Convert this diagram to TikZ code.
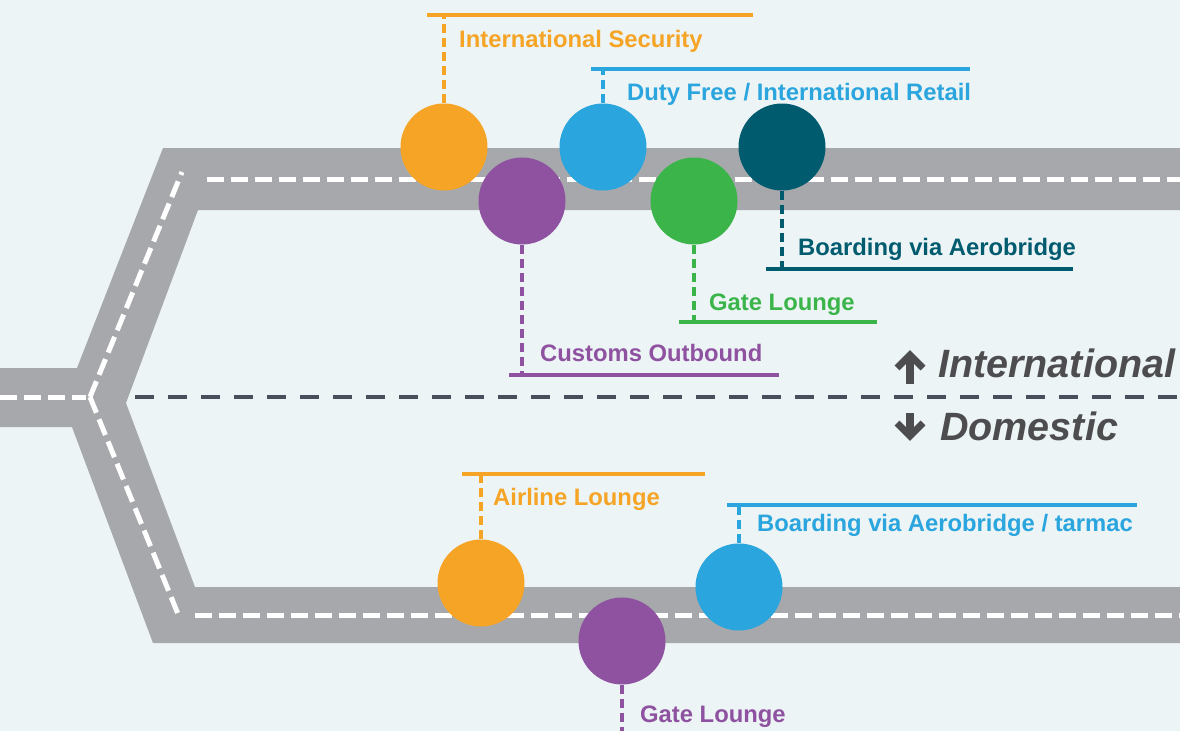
\documentclass[tikz,border=0pt]{standalone}
\usepackage{fontspec}
\setmainfont{Liberation Sans}
\definecolor{bg}{HTML}{ECF4F6}
\definecolor{road}{HTML}{A7A8AB}
\definecolor{cor}{HTML}{F6A425}
\definecolor{cpu}{HTML}{8E52A0}
\definecolor{cbl}{HTML}{2AA5DE}
\definecolor{cgr}{HTML}{3BB54A}
\definecolor{cte}{HTML}{005B6F}
\definecolor{divc}{HTML}{4A4E5C}
\definecolor{bigtext}{HTML}{4D4D4F}
\begin{document}
\begin{tikzpicture}[x=1pt,y=-1pt,
  circ/.style={circle, minimum size=87pt, inner sep=0pt, draw=none},
  conn/.style={line width=3.6pt, dash pattern=on 9pt off 5pt},
  bar/.style={line width=3.6pt},
  lbl/.style={anchor=base west, inner sep=0pt, font=\bfseries\fontsize{23.8}{28}\selectfont},
  big/.style={anchor=base west, inner sep=0pt, text=bigtext, font=\bfseries\itshape\fontsize{39.5}{44}\selectfont},
  roadline/.style={white, line width=5pt, dash pattern=on 17pt off 7pt},
  divline/.style={divc, line width=4.5pt, dash pattern=on 19pt off 14pt},
  arrshaft/.style={bigtext, line width=7.5pt},
  arrhead/.style={bigtext, line width=7pt, miter limit=10},
]
% background
\fill[bg] (0,0) rectangle (1180,731);
\useasboundingbox (0,0) rectangle (1180,731);
% road
\fill[road] (0,368) -- (77,368) -- (163,148) -- (1180,148) -- (1180,210) -- (198,210)
  -- (126,403) -- (195,587) -- (1180,587) -- (1180,643) -- (153,643) -- (72,427) -- (0,427) -- cycle;
\draw[roadline] (0,397) -- (86,397);
\draw[roadline] (90,397) -- (182,172);
\draw[roadline] (90,397) -- (178,614);
\draw[roadline] (207,179) -- (1180,179);
\draw[roadline] (195,615) -- (1180,615);
% divider
\draw[divline] (135,397) -- (1180,397);
% arrows
\draw[arrshaft] (910,384) -- (910,360);
\draw[arrhead] (897,368) -- (910,355) -- (923,368);
\draw[arrshaft] (910,413) -- (910,432);
\draw[arrhead] (897,423) -- (910,436) -- (923,423);
\node[big] (intl) at (938,377) {International};
\node[big] (dom) at (940,440) {Domestic};
% circles international
\node[circ, fill=cor] (isec) at (444,147) {};
\node[circ, fill=cpu] (cust) at (522,201) {};
\node[circ, fill=cbl] (duty) at (603,147) {};
\node[circ, fill=cgr] (gli) at (694,201) {};
\node[circ, fill=cte] (bav) at (782,147) {};
% circles domestic
\node[circ, fill=cor] (alr) at (481,583) {};
\node[circ, fill=cpu] (gld) at (622,641) {};
\node[circ, fill=cbl] (bat) at (739,587) {};
% coordinates for bars
\coordinate (isecT) at (444,15);
\coordinate (isecL) at (427,15);
\coordinate (isecR) at (753,15);
\coordinate (dutyT) at (603,69);
\coordinate (dutyL) at (591,69);
\coordinate (dutyR) at (970,69);
\coordinate (bavT) at (782,269);
\coordinate (bavL) at (766,269);
\coordinate (bavR) at (1073,269);
\coordinate (gliT) at (694,322);
\coordinate (gliL) at (679,322);
\coordinate (gliR) at (877,322);
\coordinate (custT) at (522,375);
\coordinate (custL) at (509,375);
\coordinate (custR) at (779,375);
\coordinate (alrT) at (481,474);
\coordinate (alrL) at (462,474);
\coordinate (alrR) at (705,474);
\coordinate (batT) at (739,505);
\coordinate (batL) at (727,505);
\coordinate (batR) at (1137,505);
\coordinate (gldT) at (622,731);
% connectors
\draw[conn, cor] (isec) -- (isecT);
\draw[bar, cor] (isecL) -- (isecR);
\draw[conn, cbl] (duty) -- (dutyT);
\draw[bar, cbl] (dutyL) -- (dutyR);
\draw[conn, cte] (bav) -- (bavT);
\draw[bar, cte] (bavL) -- (bavR);
\draw[conn, cgr] (gli) -- (gliT);
\draw[bar, cgr] (gliL) -- (gliR);
\draw[conn, cpu] (cust) -- (custT);
\draw[bar, cpu] (custL) -- (custR);
\draw[conn, cor] (alr) -- (alrT);
\draw[bar, cor] (alrL) -- (alrR);
\draw[conn, cbl] (bat) -- (batT);
\draw[bar, cbl] (batL) -- (batR);
\draw[conn, cpu] (gld) -- (gldT);
% labels
\node[lbl, text=cor] (tisec) at (459,47) {International Security};
\node[lbl, text=cbl] (tduty) at (627,100) {Duty Free / International Retail};
\node[lbl, text=cte] (tbav) at (798,255) {Boarding via Aerobridge};
\node[lbl, text=cgr] (tgli) at (709,310) {Gate Lounge};
\node[lbl, text=cpu] (tcust) at (540,361) {Customs Outbound};
\node[lbl, text=cor] (talr) at (493,505) {Airline Lounge};
\node[lbl, text=cbl] (tbat) at (757,531) {Boarding via Aerobridge / tarmac};
\node[lbl, text=cpu] (tgld) at (640,722) {Gate Lounge};
\end{tikzpicture}
\end{document}
